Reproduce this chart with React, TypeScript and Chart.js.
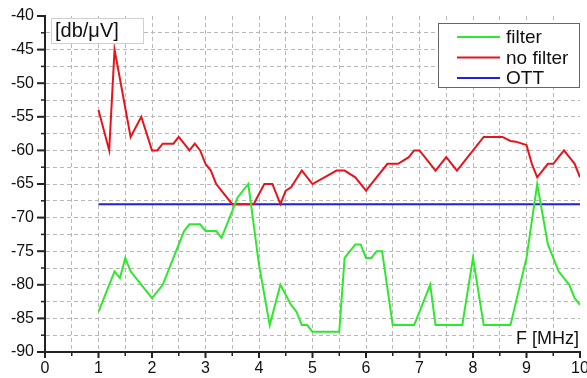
import React, { useEffect, useRef } from "react";
import { Chart, registerables } from "chart.js";

Chart.register(...registerables);

const filterX = [1.0, 1.3, 1.4, 1.5, 1.6, 2.0, 2.2, 2.45, 2.6, 2.7, 2.9, 3.0, 3.2, 3.3, 3.6, 3.8, 4.0, 4.2, 4.4, 4.6, 4.7, 4.8, 4.9, 5.0, 5.5, 5.6, 5.8, 5.9, 6.0, 6.1, 6.2, 6.3, 6.5, 6.9, 7.2, 7.3, 7.8, 8.0, 8.2, 8.7, 9.0, 9.2, 9.4, 9.6, 9.8, 9.9, 10.0];
const filterY = [-84, -78, -79, -76, -78, -82, -80, -75, -72, -71, -71, -72, -72, -73, -67, -65, -77, -86, -80, -83, -84, -86, -86, -87, -87, -76, -74, -74, -76, -76, -75, -75, -86, -86, -80, -86, -86, -76, -86, -86, -76, -65, -74, -78, -80, -82, -83];

const noFilterX = [1.0, 1.2, 1.3, 1.6, 1.8, 2.0, 2.1, 2.2, 2.4, 2.5, 2.7, 2.8, 2.9, 3.0, 3.1, 3.2, 3.5, 3.9, 4.0, 4.1, 4.25, 4.4, 4.5, 4.6, 4.8, 5.0, 5.45, 5.6, 5.8, 6.0, 6.4, 6.6, 6.8, 6.9, 7.0, 7.3, 7.5, 7.7, 8.2, 8.55, 8.7, 8.8, 9.0, 9.1, 9.2, 9.4, 9.5, 9.7, 9.9, 10.0];
const noFilterY = [-54, -60, -45, -58, -55, -60, -60, -59, -59, -58, -60, -59, -60, -62, -63, -65, -68, -68, -66.5, -65, -65, -68, -66, -65.5, -63, -65, -63, -63, -64, -66, -62, -62, -61, -60, -60, -63, -61, -63, -58, -58, -58.6, -58.7, -59.2, -62, -64, -62, -62, -60, -62, -64];

const ottX = [1, 10];
const ottY = [-68, -68];

const seriesLabels = ["filter", "no filter", "OTT"];
const seriesColors = ["#2ee82e", "#e8141c", "#2020d8"];

const yAxisTitle = "[db/\u03bcV]";
const xAxisTitle = "F [MHz]";

const FONT = "'Liberation Sans', Arial, sans-serif";

const toPoints = (xs: number[], ys: number[]) => xs.map((x, i) => ({ x, y: ys[i] }));

const decorPlugin = {
  id: "decor",
  afterDraw(chart: any) {
    const { ctx, chartArea, scales } = chart;
    const xs = scales.x;
    const ys = scales.y;
    ctx.save();
    // tick marks
    ctx.strokeStyle = "#222";
    xs.ticks.forEach((t: any) => {
      const px = xs.getPixelForValue(t.value);
      const major = Number.isInteger(t.value);
      ctx.lineWidth = major ? 2 : 1.5;
      ctx.beginPath();
      ctx.moveTo(px, chartArea.bottom);
      ctx.lineTo(px, chartArea.bottom + (major ? 6 : 4));
      ctx.stroke();
    });
    ys.ticks.forEach((t: any) => {
      const py = ys.getPixelForValue(t.value);
      const major = t.value % 5 === 0;
      ctx.lineWidth = major ? 2 : 1.5;
      ctx.beginPath();
      ctx.moveTo(chartArea.left - (major ? 8 : 4), py);
      ctx.lineTo(chartArea.left, py);
      ctx.stroke();
    });

    // y axis title box
    ctx.font = `20px ${FONT}`;
    ctx.textBaseline = "middle";
    ctx.textAlign = "left";
    const bx = chartArea.left + 6;
    const by = chartArea.top + 2;
    const bw = 92;
    const bh = 25;
    ctx.fillStyle = "#fff";
    ctx.fillRect(bx, by, bw, bh);
    ctx.strokeStyle = "#cfcfcf";
    ctx.lineWidth = 1;
    ctx.strokeRect(bx + 0.5, by + 0.5, bw, bh);
    ctx.fillStyle = "#111";
    ctx.fillText(yAxisTitle, bx + 4, by + bh / 2 + 1);

    // x axis title
    ctx.font = `18px ${FONT}`;
    const tw = ctx.measureText(xAxisTitle).width;
    const tx = chartArea.right - tw - 1;
    const ty = chartArea.bottom - 13;
    ctx.fillStyle = "#fff";
    ctx.fillRect(tx - 3, ty - 10, tw + 4, 20);
    ctx.fillStyle = "#111";
    ctx.fillText(xAxisTitle, tx, ty);

    // legend
    const lx = chartArea.right - 142;
    const ly = chartArea.top + 7;
    const lw = 141;
    const lh = 64;
    ctx.fillStyle = "#fff";
    ctx.fillRect(lx, ly, lw, lh);
    ctx.strokeStyle = "#666";
    ctx.lineWidth = 1;
    ctx.strokeRect(lx + 0.5, ly + 0.5, lw, lh);
    ctx.font = `19px ${FONT}`;
    chart.data.datasets.forEach((ds: any, i: number) => {
      const cy = ly + 14 + i * 20.5;
      ctx.strokeStyle = ds.borderColor;
      ctx.lineWidth = 2;
      ctx.beginPath();
      ctx.moveTo(lx + 19, cy);
      ctx.lineTo(lx + 62, cy);
      ctx.stroke();
      ctx.fillStyle = "#111";
      ctx.fillText(ds.label, lx + 68, cy + 1);
    });
    ctx.restore();
  },
};

export default function App() {
  const ref = useRef<HTMLCanvasElement | null>(null);

  useEffect(() => {
    if (!ref.current) return;
    const datasets = [
      toPoints(filterX, filterY),
      toPoints(noFilterX, noFilterY),
      toPoints(ottX, ottY),
    ].map((data, i) => ({
      label: seriesLabels[i],
      data,
      borderColor: seriesColors[i],
      backgroundColor: seriesColors[i],
      borderWidth: 2,
      pointRadius: 0,
      tension: 0,
      fill: false,
    }));

    const chart = new Chart(ref.current, {
      type: "line",
      data: { datasets },
      options: {
        animation: false,
        responsive: false,
        devicePixelRatio: 1,
        layout: { padding: { top: 16, right: 7, left: 0, bottom: 0 } },
        plugins: { legend: { display: false }, tooltip: { enabled: false } },
        scales: {
          x: {
            type: "linear",
            min: 0,
            max: 10,
            ticks: {
              stepSize: 0.5,
              autoSkip: false,
              maxRotation: 0,
              padding: 7,
              color: "#111",
              font: { family: FONT, size: 16 },
              callback: (v: any) => (Number.isInteger(v) ? String(v) : ""),
            },
            grid: {
              drawTicks: false,
              color: (c: any) =>
                c.tick && (c.tick.value === 0 || c.tick.value === 10) ? "rgba(0,0,0,0)" : "#b8b8b8",
              lineWidth: 1,
            },
            border: { display: true, color: "#222", width: 2, dash: [4, 3] },
            afterFit: (s: any) => {
              s.height = 26;
              s.paddingLeft = 0;
              s.paddingRight = 0;
            },
          },
          y: {
            type: "linear",
            min: -90,
            max: -40,
            ticks: {
              stepSize: 2.5,
              autoSkip: false,
              padding: 11,
              color: "#111",
              font: { family: FONT, size: 16 },
              callback: (v: any) => (v % 5 === 0 ? String(v) : ""),
            },
            grid: {
              drawTicks: false,
              color: (c: any) =>
                c.tick && (c.tick.value === -90 || c.tick.value === -40) ? "rgba(0,0,0,0)" : "#b8b8b8",
              lineWidth: 1,
            },
            border: { display: true, color: "#222", width: 2, dash: [4, 3] },
            afterFit: (s: any) => {
              s.width = 45;
              s.paddingTop = 0;
              s.paddingBottom = 0;
            },
          },
        },
      },
      plugins: [decorPlugin],
    } as any);
    return () => chart.destroy();
  }, []);

  return (
    <div style={{ position: "fixed", left: 0, top: 0, width: 587, height: 378, background: "#fff" }}>
      <canvas ref={ref} width={587} height={378} />
    </div>
  );
}
